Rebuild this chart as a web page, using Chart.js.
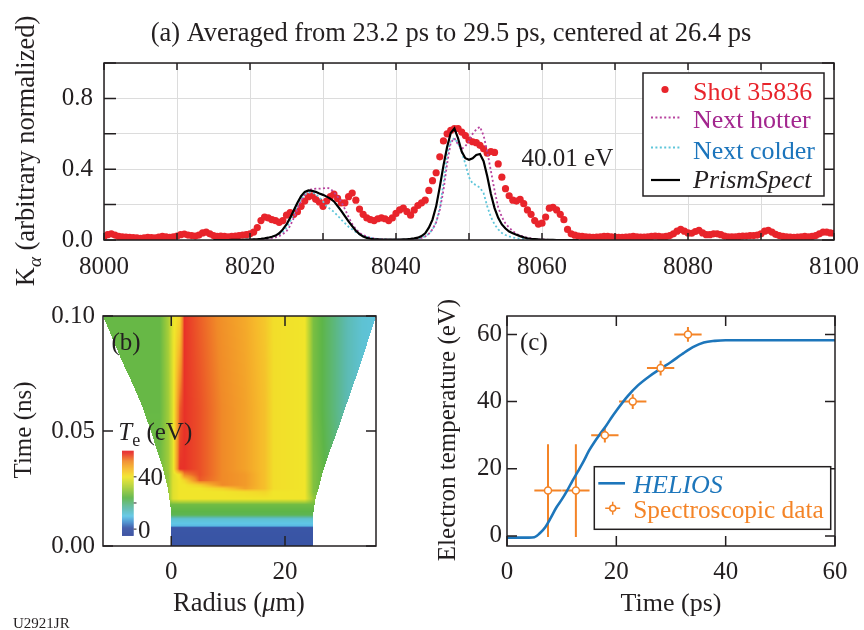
<!DOCTYPE html>
<html>
<head>
<meta charset="utf-8">
<script src="https://cdn.jsdelivr.net/npm/chart.js@4.4.1/dist/chart.umd.min.js"></script>
<style>
  body { margin: 0; background: #fff; }
  #wrap { position: relative; width: 864px; height: 630px; }
  canvas { position: absolute; }
</style>
</head>
<body>
<div id="wrap">
  <canvas id="spectrum" width="864" height="300" style="left:0;top:0"></canvas>
  <canvas id="tempmap" width="430" height="330" style="left:0;top:300px"></canvas>
  <canvas id="history" width="434" height="330" style="left:430px;top:300px"></canvas>
</div>
<script>
// ---- (a) K-alpha spectrum, sampled every 0.5 eV ----
var shotStart = 8000, shotStep = 0.5;
var shot35836 = [
  0.020,0.030,0.035,0.028,0.020,0.018,0.016,0.015,0.014,0.012, // 8000
  0.010,0.012,0.015,0.013,0.012,0.016,0.020,0.018,0.015,0.018, // 8005
  0.022,0.030,0.034,0.028,0.025,0.022,0.028,0.040,0.045,0.035, // 8010
  0.025,0.020,0.022,0.020,0.018,0.020,0.022,0.025,0.028,0.030, // 8015
  0.035,0.045,0.070,0.110,0.130,0.125,0.115,0.110,0.100,0.110, // 8020
  0.140,0.155,0.145,0.160,0.190,0.220,0.245,0.250,0.230,0.215, // 8025
  0.190,0.220,0.245,0.260,0.235,0.210,0.210,0.245,0.265,0.225, // 8030
  0.175,0.145,0.125,0.115,0.110,0.120,0.125,0.120,0.110,0.125, // 8035
  0.150,0.170,0.180,0.160,0.140,0.170,0.195,0.210,0.225,0.280, // 8040
  0.335,0.380,0.470,0.560,0.600,0.620,0.630,0.630,0.610,0.590, // 8045
  0.565,0.555,0.550,0.535,0.515,0.490,0.500,0.495,0.430,0.355, // 8050
  0.290,0.250,0.225,0.220,0.230,0.205,0.170,0.145,0.110,0.090, // 8055
  0.095,0.130,0.180,0.185,0.170,0.145,0.115,0.060,0.035,0.027, // 8060
  0.022,0.020,0.018,0.016,0.015,0.016,0.018,0.020,0.020,0.018, // 8065
  0.016,0.015,0.015,0.016,0.018,0.020,0.018,0.017,0.016,0.018, // 8070
  0.020,0.022,0.020,0.018,0.020,0.025,0.035,0.050,0.060,0.050, // 8075
  0.040,0.038,0.048,0.055,0.040,0.030,0.030,0.035,0.035,0.030, // 8080
  0.022,0.018,0.018,0.018,0.020,0.022,0.022,0.025,0.025,0.028, // 8085
  0.035,0.050,0.055,0.045,0.032,0.025,0.020,0.018,0.016,0.015, // 8090
  0.016,0.018,0.020,0.018,0.020,0.025,0.035,0.045,0.045,0.040, // 8095
  0.038
];

var simStart = 8015, simStep = 0.5;
var prismSpect = [
  0,0,0,0,0,0.001,0.001,0.001,0.001,0.002,
  0.002,0.003,0.004,0.006,0.009,0.013,0.018,0.025,0.038,0.060,
  0.088,0.125,0.168,0.210,0.248,0.272,0.280,0.278,0.272,0.263,
  0.255,0.245,0.234,0.218,0.192,0.165,0.135,0.105,0.078,0.052,
  0.033,0.020,0.012,0.007,0.004,0.003,0.002,0.002,0.002,0.002,
  0.002,0.002,0.003,0.004,0.006,0.009,0.013,0.022,0.038,0.070,
  0.115,0.190,0.300,0.420,0.525,0.605,0.630,0.575,0.500,0.462,
  0.453,0.462,0.480,0.486,0.445,0.360,0.260,0.180,0.125,0.088,
  0.065,0.048,0.038,0.030,0.022,0.015,0.010,0.007,0.005,0.003,
  0.002,0.001,0.001,0.001,0,0,0,0,0,0,
  0
];
var nextHotter = [
  0,0,0,0,0,0,0.001,0.001,0.001,0.001,
  0.002,0.002,0.003,0.004,0.005,0.007,0.010,0.015,0.022,0.033,
  0.050,0.080,0.125,0.175,0.222,0.258,0.280,0.288,0.290,0.290,
  0.292,0.295,0.290,0.270,0.245,0.215,0.175,0.130,0.090,0.062,
  0.040,0.028,0.019,0.013,0.009,0.006,0.004,0.003,0.002,0.002,
  0.002,0.002,0.002,0.003,0.004,0.006,0.008,0.012,0.020,0.035,
  0.060,0.100,0.170,0.280,0.430,0.550,0.575,0.540,0.515,0.530,
  0.560,0.600,0.625,0.640,0.590,0.500,0.390,0.280,0.185,0.130,
  0.093,0.070,0.050,0.035,0.025,0.019,0.013,0.009,0.006,0.004,
  0.003,0.002,0.001,0.001,0,0,0,0,0,0,
  0
];
var nextColder = [
  0,0,0,0,0,0,0,0,0,0.001,
  0.001,0.002,0.003,0.004,0.006,0.009,0.013,0.020,0.030,0.045,
  0.070,0.105,0.150,0.195,0.230,0.255,0.268,0.268,0.260,0.240,
  0.218,0.190,0.175,0.159,0.138,0.115,0.095,0.075,0.060,0.045,
  0.032,0.024,0.017,0.012,0.009,0.006,0.004,0.003,0.002,0.002,
  0.002,0.002,0.002,0.003,0.004,0.006,0.008,0.012,0.020,0.035,
  0.060,0.100,0.180,0.320,0.480,0.560,0.575,0.545,0.500,0.430,
  0.355,0.318,0.310,0.295,0.265,0.190,0.130,0.088,0.060,0.040,
  0.028,0.020,0.014,0.010,0.007,0.005,0.003,0.002,0.001,0.001,
  0,0,0,0,0,0,0,0,0,0,
  0
];

// ---- (b) HELIOS electron temperature map (eV) ----
var mapTime = [0, 0.008, 0.0088, 0.0118, 0.0135, 0.018, 0.0205, 0.0235, 0.025, 0.0265, 0.0285, 0.031, 0.0335, 0.06, 0.1];
var mapRadius = [-12, -2, -0.5, 0.3, 1.5, 2.3, 5, 9, 13, 16.5, 18, 23.5, 25, 26.5, 28.5, 31, 33.5, 36];
var mapTe = [
  [0,0,0,0,0,0,0,0,0,0,0,0,0,0,0,0,0,0],
  [1,1,1,1,1,1,1,1,1,1,1,1,1,1,1,1,1,1],
  [9,9,9,9,9,9,9,9,9,9,9,9,9,9,9,9,9,9],
  [12,12,12,12,12,12,12,12,12,12,12,12,12,12,12,12,12,12],
  [23,23,23,23,23,23,23,23,23,23,23,23,23,23,23,23,23,23],
  [26,26,26,26,26,26,26,26,26,26,26,26,26,26,26,26,26,26],
  [28,28,30,38,40,40,40,40,40,40,40,40,30,26,24,20,15,12],
  [27,27,30,38,40,40,40,40,41,42,40,40,28,25,21,16,13,12],
  [27,27,30,38,40,40,40,43,49,45,41,40,28,25,21,16,13,12],
  [27,27,30,38,40,40,43,52,50,45,41,40,28,25,21,16,13,12],
  [27,27,30,38,40,42,55,52,50,45,41,40,28,25,21,16,13,12],
  [26,26,30,38,41,52,56,52,50,45,41,40,28,25,21,16,13,12],
  [26,26,31,38,58,58,56,52,49,45,41,40,28,25,21,16,13,12],
  [25,25,31,38,55,58,56,52,49,45,41,40,27,24,20,15,12,11],
  [25,25,32,39,42,58,55,51,48,44,41,40,27,24,20,15,12,11]
];
var edgeTime = [0, 0.0145, 0.02, 0.025, 0.03, 0.035, 0.04, 0.05, 0.06, 0.07, 0.08, 0.09, 0.1];
var edgeLeft = [0, 0, -0.3, -0.6, -1.1, -1.6, -2.3, -3.6, -5.0, -6.7, -8.6, -10.3, -12];
var edgeRight = [25, 25, 25.3, 25.9, 26.4, 27.0, 27.7, 29.2, 30.6, 32.0, 33.4, 34.7, 36];

// ---- (c) electron temperature history ----
var heliosTime = [0, 2, 4, 5, 6, 7, 8, 9, 10, 11, 12, 13, 14, 15, 16, 17, 18, 19, 20, 22, 24, 26, 28, 30, 32, 34, 36, 38, 40, 45, 50, 55, 60];
var heliosTe = [-0.5, -0.5, -0.5, -0.4, 0.8, 2.6, 5.4, 8.4, 10.8, 13.5, 16.5, 19.3, 22.2, 25.4, 28.0, 30.3, 32.5, 35.0, 37.3, 41.5, 44.9, 47.5, 49.7, 51.8, 54.1, 56.2, 57.6, 58.1, 58.3, 58.3, 58.3, 58.3, 58.3];
var specTime = [7.5, 12.6, 17.9, 23.0, 28.1, 33.1];
var specTe = [13.5, 13.5, 30, 40, 50, 60];
var specTimeErr = [2.5, 2.5, 2.5, 2.5, 2.5, 2.5];
var specTeErr = [13.8, 13.8, 2.2, 2.2, 2.2, 2.2];

var INK = '#231f20';
var SERIF = '"Liberation Serif", "Times New Roman", serif';
var RED = '#e8242b', MAGENTA = '#b8449f', CYAN = '#5fc6da', BLUE = '#1d76bb', ORANGE = '#f48427';

Chart.defaults.font.family = SERIF;
Chart.defaults.font.size = 25;
Chart.defaults.color = INK;
Chart.defaults.animation = false;
Chart.defaults.plugins.legend.display = false;
Chart.defaults.plugins.tooltip.enabled = false;

function series(start, step, vals) {
  return vals.map(function (v, i) { return {x: start + i * step, y: v}; });
}
function pairs(xs, ys) {
  return xs.map(function (x, i) { return {x: x, y: ys[i]}; });
}
// fixed axis sizes so the plot boxes sit where the figure has them
function fixWidth(w) {
  return function (s) { s.width = w; s.paddingTop = 0; s.paddingBottom = 0; };
}
function fixHeight(h) {
  return function (s) { s.height = h; s.paddingLeft = 0; s.paddingRight = 0; };
}

// text with italic / subscript pieces
function drawRich(ctx, it) {
  var size = it.size || 25;
  function font(p) { return (p.italic ? 'italic ' : '') + (p.sub ? size * 0.72 : size) + 'px ' + SERIF; }
  ctx.save();
  ctx.translate(it.x, it.y);
  if (it.rotate) ctx.rotate(it.rotate);
  var total = 0;
  it.parts.forEach(function (p) { ctx.font = font(p); total += ctx.measureText(p.t).width; });
  var x = it.align === 'left' ? 0 : -total / 2;
  ctx.textAlign = 'left';
  ctx.textBaseline = 'alphabetic';
  it.parts.forEach(function (p) {
    ctx.font = font(p);
    ctx.fillStyle = p.color || it.color || INK;
    ctx.fillText(p.t, x, p.sub ? size * 0.25 : 0);
    x += ctx.measureText(p.t).width;
  });
  ctx.restore();
}

function makeTexts(items) {
  return {
    id: 'texts',
    afterDraw: function (chart) {
      items.forEach(function (it) {
        if (it.data) {
          it = Object.assign({}, it, {x: chart.scales.x.getPixelForValue(it.x), y: chart.scales.y.getPixelForValue(it.y)});
        }
        drawRich(chart.ctx, it);
      });
    }
  };
}

// box round the plot with inward tick marks on all four sides
function makeFrame(xLen, yLen) {
  return {
    id: 'frame',
    afterDatasetsDraw: function (chart) {
      var a = chart.chartArea, ctx = chart.ctx, sx = chart.scales.x, sy = chart.scales.y;
      ctx.save();
      ctx.strokeStyle = INK;
      ctx.lineWidth = 1.5;
      ctx.beginPath();
      sx.ticks.forEach(function (t) {
        var p = sx.getPixelForValue(t.value);
        ctx.moveTo(p, a.bottom); ctx.lineTo(p, a.bottom - xLen);
        ctx.moveTo(p, a.top); ctx.lineTo(p, a.top + xLen);
      });
      sy.ticks.forEach(function (t) {
        var p = sy.getPixelForValue(t.value);
        ctx.moveTo(a.left, p); ctx.lineTo(a.left + yLen, p);
        ctx.moveTo(a.right, p); ctx.lineTo(a.right - yLen, p);
      });
      ctx.stroke();
      ctx.strokeRect(a.left, a.top, a.right - a.left, a.bottom - a.top);
      ctx.restore();
    }
  };
}

// ================= (a) =================
var legendTextA = [RED, '#a3268e', '#1c75bc', INK];
new Chart(document.getElementById('spectrum'), {
  type: 'scatter',
  data: {
    datasets: [
      {label: 'Shot 35836', data: series(shotStart, shotStep, shot35836), pointRadius: 3.6,
       pointBackgroundColor: RED, pointBorderWidth: 0, order: 4},
      {label: 'Next hotter', data: series(simStart, simStep, nextHotter), showLine: true, pointRadius: 0,
       borderColor: MAGENTA, borderWidth: 1.8, borderDash: [2, 2.4], order: 2},
      {label: 'Next colder', data: series(simStart, simStep, nextColder), showLine: true, pointRadius: 0,
       borderColor: CYAN, borderWidth: 1.8, borderDash: [2, 2.4], order: 3},
      {label: 'PrismSpect', data: series(simStart, simStep, prismSpect), showLine: true, pointRadius: 0,
       borderColor: '#000', borderWidth: 2.2, order: 1}
    ]
  },
  options: {
    responsive: false,
    devicePixelRatio: 1,
    layout: {padding: {top: 63, right: 30, left: 0, bottom: 0}},
    scales: {
      x: {
        type: 'linear', min: 8000, max: 8100,
        afterFit: fixHeight(60),
        grid: {color: '#dcdcdc', drawTicks: false},
        border: {display: false},
        ticks: {stepSize: 10, autoSkip: false, maxRotation: 0, padding: 12,
                callback: function (v) { return v % 20 === 0 ? v : ''; }}
      },
      y: {
        min: 0, max: 1,
        afterFit: fixWidth(104),
        grid: {color: '#dcdcdc', drawTicks: false},
        border: {display: false},
        ticks: {stepSize: 0.2, padding: 11,
                callback: function (v) { var k = Math.round(v * 10); return (k % 4 === 0 && k < 10) ? (k / 10).toFixed(1) : ''; }}
      }
    }
  },
  plugins: [
    makeFrame(7, 12),
    {
      id: 'legendA',
      afterDraw: function (chart) {
        var ctx = chart.ctx, rows = [99.5, 128, 159, 188], marks = [89.5, 117.5, 147.5, 180];
        ctx.save();
        ctx.fillStyle = '#fff';
        ctx.fillRect(643, 73, 181, 123);
        ctx.strokeStyle = INK; ctx.lineWidth = 1.5;
        ctx.strokeRect(643, 73, 181, 123);
        chart.data.datasets.forEach(function (ds, i) {
          if (ds.showLine) {
            ctx.strokeStyle = ds.borderColor; ctx.lineWidth = ds.borderWidth;
            ctx.setLineDash(ds.borderDash || []);
            ctx.beginPath(); ctx.moveTo(651, marks[i]); ctx.lineTo(680, marks[i]); ctx.stroke();
            ctx.setLineDash([]);
          } else {
            ctx.fillStyle = ds.pointBackgroundColor;
            ctx.beginPath(); ctx.arc(665, marks[i], ds.pointRadius, 0, 2 * Math.PI); ctx.fill();
          }
          drawRich(ctx, {x: 693, y: rows[i], size: 26, align: 'left', color: legendTextA[i],
                         parts: [{t: ds.label, italic: ds.label === 'PrismSpect'}]});
        });
        ctx.restore();
      }
    },
    makeTexts([
      {x: 451, y: 41, size: 26.5, parts: [{t: '(a) Averaged from 23.2 ps to 29.5 ps, centered at 26.4 ps'}]},
      {x: 34, y: 151, size: 26.5, rotate: -Math.PI / 2, parts: [{t: 'K'}, {t: 'α', italic: true, sub: true}, {t: ' (arbitrary normalized)'}]},
      {data: true, x: 8057.2, y: 0.42, align: 'left', parts: [{t: '40.01 eV'}]}
    ])
  ]
});

// ================= (b) =================
var heatStops = [
  [-4.5, 52, 74, 158], [1, 58, 86, 166], [5, 70, 140, 205], [10, 95, 198, 230], [16, 92, 185, 170],
  [24, 93, 181, 72], [32, 170, 207, 55], [40, 241, 229, 42], [46, 246, 185, 43], [52, 240, 138, 40],
  [58, 232, 50, 40], [60, 228, 34, 40]
];
function heatColor(v) {
  if (v <= heatStops[0][0]) return heatStops[0].slice(1);
  for (var i = 1; i < heatStops.length; i++) {
    var b = heatStops[i];
    if (v <= b[0]) {
      var a = heatStops[i - 1], f = (v - a[0]) / (b[0] - a[0]);
      return [a[1] + f * (b[1] - a[1]), a[2] + f * (b[2] - a[2]), a[3] + f * (b[3] - a[3])];
    }
  }
  return heatStops[heatStops.length - 1].slice(1);
}
function interp(xs, ys, v) {
  if (v <= xs[0]) return ys[0];
  for (var i = 1; i < xs.length; i++) {
    if (v <= xs[i]) return ys[i - 1] + (v - xs[i - 1]) / (xs[i] - xs[i - 1]) * (ys[i] - ys[i - 1]);
  }
  return ys[ys.length - 1];
}
function teAt(r, t) {
  var k = 0;
  while (k < mapTime.length - 2 && t > mapTime[k + 1]) k++;
  var f = Math.min(1, Math.max(0, (t - mapTime[k]) / (mapTime[k + 1] - mapTime[k])));
  var lo = interp(mapRadius, mapTe[k], r), hi = interp(mapRadius, mapTe[k + 1], r);
  return lo + f * (hi - lo);
}

var heatPlugin = {
  id: 'heat',
  beforeDatasetsDraw: function (chart) {
    var ctx = chart.ctx, a = chart.chartArea, sx = chart.scales.x, sy = chart.scales.y;
    var x0 = Math.round(a.left), y0 = Math.round(a.top);
    var w = Math.round(a.right) - x0, h = Math.round(a.bottom) - y0;
    var off = document.createElement('canvas');
    off.width = w; off.height = h;
    var octx = off.getContext('2d'), img = octx.createImageData(w, h);
    for (var j = 0; j < h; j++) {
      var t = sy.getValueForPixel(y0 + j + 0.5);
      var rl = interp(edgeTime, edgeLeft, t), rr = interp(edgeTime, edgeRight, t);
      for (var i = 0; i < w; i++) {
        var r = sx.getValueForPixel(x0 + i + 0.5);
        if (r < rl || r > rr) continue;
        var c = heatColor(teAt(r, t)), k = (j * w + i) * 4;
        img.data[k] = c[0]; img.data[k + 1] = c[1]; img.data[k + 2] = c[2]; img.data[k + 3] = 255;
      }
    }
    octx.putImageData(img, 0, 0);
    ctx.drawImage(off, x0, y0);

    // colour bar
    var cbX = a.left + 19, cbTop = a.top + 134.7, cbH = 84.3, cbMin = -4.5, cbMax = 60;
    for (var p = 0; p < cbH; p++) {
      var c2 = heatColor(cbMax - (p + 0.5) / cbH * (cbMax - cbMin));
      ctx.fillStyle = 'rgb(' + c2.map(Math.round).join(',') + ')';
      ctx.fillRect(cbX, cbTop + p, 11.7, 1.2);
    }
    ctx.save();
    ctx.strokeStyle = INK; ctx.lineWidth = 1;
    ctx.beginPath();
    [0, 20, 40].forEach(function (v) {
      var py = cbTop + (cbMax - v) / (cbMax - cbMin) * cbH;
      ctx.moveTo(cbX + 11.7, py); ctx.lineTo(cbX + 14.5, py);
    });
    ctx.stroke();
    ctx.restore();
    drawRich(ctx, {x: cbX + 16, y: cbTop + (cbMax - 40) / (cbMax - cbMin) * cbH + 8.5, align: 'left', parts: [{t: '40'}]});
    drawRich(ctx, {x: cbX + 16, y: cbTop + (cbMax - 0) / (cbMax - cbMin) * cbH + 8.5, align: 'left', parts: [{t: '0'}]});
  }
};

new Chart(document.getElementById('tempmap'), {
  type: 'scatter',
  data: {datasets: [{data: []}]},
  options: {
    responsive: false,
    devicePixelRatio: 1,
    layout: {padding: {top: 16, right: 54, left: 0, bottom: 0}},
    scales: {
      x: {
        type: 'linear', min: -12, max: 36,
        afterFit: fixHeight(84),
        afterBuildTicks: function (s) { s.ticks = [{value: 0}, {value: 20}]; },
        grid: {display: false, drawTicks: false},
        border: {display: false},
        ticks: {padding: 11, maxRotation: 0}
      },
      y: {
        min: 0, max: 0.1,
        afterFit: fixWidth(103),
        grid: {display: false, drawTicks: false},
        border: {display: false},
        ticks: {stepSize: 0.05, padding: 8, callback: function (v) { return v.toFixed(2); }}
      }
    }
  },
  plugins: [
    heatPlugin,
    makeFrame(10, 10),
    makeTexts([
      {x: 126, y: 50, parts: [{t: '(b)'}]},
      {x: 118.3, y: 140, align: 'left', parts: [{t: 'T', italic: true}, {t: 'e', sub: true}, {t: ' (eV)'}]},
      {x: 31, y: 130, rotate: -Math.PI / 2, parts: [{t: 'Time (ns)'}]},
      {x: 239, y: 311, size: 26.5, parts: [{t: 'Radius ('}, {t: 'μ', italic: true}, {t: 'm)'}]},
      {x: 13, y: 328, size: 15, align: 'left', parts: [{t: 'U2921JR'}]}
    ])
  ]
});

// ================= (c) =================
var errorBars = {
  id: 'errorBars',
  beforeDatasetsDraw: function (chart) {
    var ctx = chart.ctx, sx = chart.scales.x, sy = chart.scales.y;
    ctx.save();
    ctx.strokeStyle = ORANGE; ctx.lineWidth = 2;
    ctx.beginPath();
    specTime.forEach(function (t, i) {
      var px = sx.getPixelForValue(t), py = sy.getPixelForValue(specTe[i]);
      ctx.moveTo(sx.getPixelForValue(t - specTimeErr[i]), py);
      ctx.lineTo(sx.getPixelForValue(t + specTimeErr[i]), py);
      ctx.moveTo(px, sy.getPixelForValue(specTe[i] - specTeErr[i]));
      ctx.lineTo(px, sy.getPixelForValue(specTe[i] + specTeErr[i]));
    });
    ctx.stroke();
    ctx.restore();
  }
};

new Chart(document.getElementById('history'), {
  type: 'scatter',
  data: {
    datasets: [
      {label: 'HELIOS', data: pairs(heliosTime, heliosTe), showLine: true, pointRadius: 0,
       borderColor: BLUE, borderWidth: 2.6, cubicInterpolationMode: 'monotone', order: 1},
      {label: 'Spectroscopic data', data: pairs(specTime, specTe), pointRadius: 3.5,
       pointBackgroundColor: '#fff', pointBorderColor: ORANGE, pointBorderWidth: 1.5, order: 0}
    ]
  },
  options: {
    responsive: false,
    devicePixelRatio: 1,
    layout: {padding: {top: 16, right: 29, left: 0, bottom: 0}},
    scales: {
      x: {
        type: 'linear', min: 0, max: 60,
        afterFit: fixHeight(84),
        grid: {display: false, drawTicks: false},
        border: {display: false},
        ticks: {stepSize: 20, padding: 11, maxRotation: 0}
      },
      y: {
        min: -3, max: 65.5,
        afterFit: fixWidth(77),
        afterBuildTicks: function (s) { s.ticks = [{value: 0}, {value: 20}, {value: 40}, {value: 60}]; },
        grid: {display: false, drawTicks: false},
        border: {display: false},
        ticks: {padding: 5}
      }
    }
  },
  plugins: [
    errorBars,
    makeFrame(10, 10),
    {
      id: 'legendC',
      afterDraw: function (chart) {
        var ctx = chart.ctx;
        ctx.save();
        ctx.fillStyle = '#fff';
        ctx.fillRect(164.3, 166.7, 236.4, 62.6);
        ctx.strokeStyle = INK; ctx.lineWidth = 1.5;
        ctx.strokeRect(164.3, 166.7, 236.4, 62.6);
        ctx.strokeStyle = BLUE; ctx.lineWidth = 2.6;
        ctx.beginPath(); ctx.moveTo(168.3, 183.3); ctx.lineTo(195, 183.3); ctx.stroke();
        ctx.strokeStyle = ORANGE; ctx.lineWidth = 1.5;
        ctx.beginPath();
        ctx.moveTo(175.2, 208.3); ctx.lineTo(190.2, 208.3);
        ctx.moveTo(182.7, 201.8); ctx.lineTo(182.7, 214.8);
        ctx.stroke();
        ctx.fillStyle = '#fff';
        ctx.beginPath(); ctx.arc(182.7, 208.3, 3, 0, 2 * Math.PI); ctx.fill(); ctx.stroke();
        ctx.restore();
        drawRich(ctx, {x: 203.3, y: 192.7, size: 26, align: 'left', color: BLUE, parts: [{t: 'HELIOS', italic: true}]});
        drawRich(ctx, {x: 203.3, y: 218.3, size: 25.3, align: 'left', color: ORANGE, parts: [{t: 'Spectroscopic data'}]});
      }
    },
    makeTexts([
      {x: 90, y: 50, align: 'left', parts: [{t: '(c)'}]},
      {x: 25, y: 130, rotate: -Math.PI / 2, parts: [{t: 'Electron temperature (eV)'}]},
      {x: 241, y: 311, size: 26, parts: [{t: 'Time (ps)'}]}
    ])
  ]
});
</script>
</body>
</html>
